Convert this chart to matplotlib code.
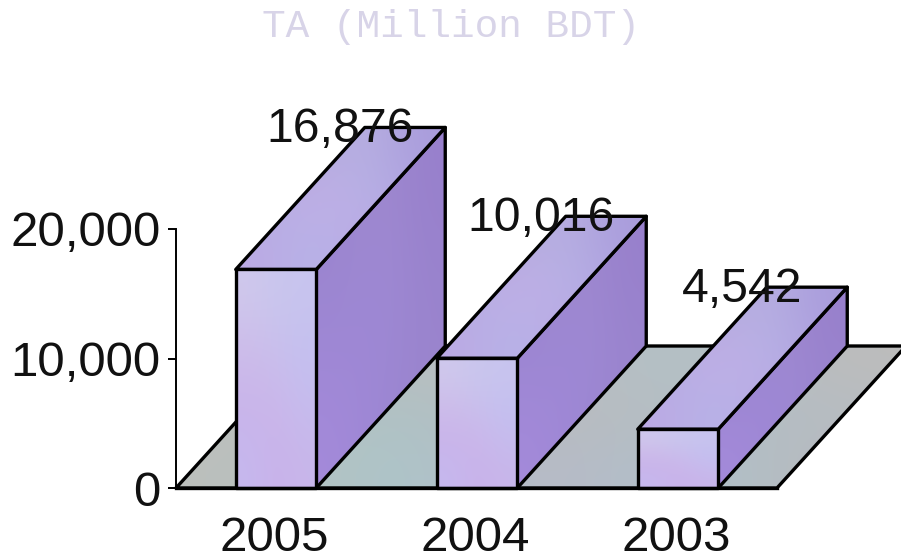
import numpy as np
import matplotlib
matplotlib.use('Agg')
import matplotlib.pyplot as plt
from matplotlib.colors import to_rgb
from matplotlib.patches import Polygon
from matplotlib.ticker import FuncFormatter

# Values
years = ['2005', '2004', '2003']
values = [16876, 10016, 4542]
y_ticks = [0, 10000, 20000]
title = 'TA (Million BDT)'

# Mottled face colours (coarse grids, smoothed when drawn)
front_colors = [['#cfc8ec', '#c9c6ee', '#c8c4ee'],
                ['#cdbcea', '#c9bfec', '#c4c0f0'],
                ['#c9b4ea', '#cbb6ea', '#c6bcee'],
                ['#c6b8ee', '#c9b2ea', '#c8b6ea']]
top_colors = [['#aca4dc', '#b4aade', '#b8b0e2', '#a99cdc'],
              ['#b3aee2', '#c4aee6', '#b6b2e6', '#b1a2e0'],
              ['#bcaae4', '#b6b4e8', '#bca8e4', '#b8a6e4']]
side_colors = [['#9a84cc', '#a08acf', '#9880cc'],
               ['#9c86d2', '#9f8ad6', '#9a84ce'],
               ['#a48ada', '#9c86d4', '#9a84cc']]
floor_colors = [['#bdbdbb', '#b5c0c2', '#bcbcc0', '#b0c2c8', '#bdbcbc'],
                ['#c0bfbc', '#a9c4c8', '#bdbabc', '#b2bfc6', '#b6bcc2'],
                ['#bcbfbc', '#a8c8cc', '#bcb6c4', '#acc4cc', '#bab8bc']]

W, H = 901, 556
left_px, right_px, y0_px, y20k_px = 176, 901, 488, 229
unit_px = 201.0                     # px between categories
first_px = 276.0                    # px of first category centre
bar_w = 80.5 / unit_px
px_per_val = (y0_px - y20k_px) / 20000.0
depth_x = 129 / unit_px
depth_y = 142 / px_per_val
lw = 2.4

fig = plt.figure(figsize=(W / 100, H / 100), dpi=100)
ax = fig.add_axes([left_px / W, 1 - y0_px / H,
                   (right_px - left_px) / W, (y0_px - y20k_px) / H])


def face(pts, colors, z):
    rgb = np.array([[to_rgb(c) for c in row] for row in colors])
    xs, ys = zip(*pts)
    im = ax.imshow(rgb, extent=(min(xs), max(xs), min(ys), max(ys)), origin='upper',
                   aspect='auto', interpolation='bicubic', zorder=z)
    poly = Polygon(pts, closed=True, transform=ax.transData, fill=False,
                   edgecolor='black', linewidth=lw, joinstyle='round',
                   clip_on=False, zorder=z + 0.1)
    ax.add_patch(poly)
    im.set_clip_box(fig.bbox)
    im.set_clip_path(Polygon(pts, closed=True, transform=ax.transData))


# Floor of the 3D box
floor_l = (left_px - first_px) / unit_px
floor_r = (777 - first_px) / unit_px
face([(floor_l, 0), (floor_l + depth_x, depth_y),
      (floor_r + depth_x, depth_y), (floor_r, 0)], floor_colors, 1)

# Bars
for i, v in enumerate(values):
    x0 = i - bar_w / 2
    x1 = i + bar_w / 2
    z = 2 + i
    face([(x1, 0), (x1 + depth_x, depth_y), (x1 + depth_x, v + depth_y), (x1, v)],
         side_colors, z)
    face([(x0, v), (x0 + depth_x, v + depth_y), (x1 + depth_x, v + depth_y), (x1, v)],
         top_colors, z + 0.2)
    face([(x0, 0), (x0, v), (x1, v), (x1, 0)], front_colors, z + 0.4)
    ax.text(i + 0.32, v + 127 / px_per_val, f'{v:,}', ha='center', va='baseline',
            fontsize=34.7, color='#111111', family='Liberation Sans', zorder=10)

ax.set_xlim(floor_l, (right_px - first_px) / unit_px)
ax.set_ylim(0, 20000)
ax.patch.set_visible(False)

ax.set_yticks(y_ticks)
ax.yaxis.set_major_formatter(FuncFormatter(lambda v, p: f'{int(v):,}'))
ax.set_xticks([i - 0.007 for i in range(len(years))])
ax.set_xticklabels(years)
ax.tick_params(axis='y', length=6, width=1.4, pad=5, labelsize=35.5, labelcolor='#111111')
ax.tick_params(axis='x', length=0, pad=20, labelsize=35.5, labelcolor='#111111')
for lab in ax.get_xticklabels() + ax.get_yticklabels():
    lab.set_family('Liberation Sans')

for s in ['top', 'right']:
    ax.spines[s].set_visible(False)
ax.spines['left'].set_linewidth(1.4)
ax.spines['bottom'].set_linewidth(lw)
ax.spines['bottom'].set_bounds(floor_l, floor_r)
ax.spines['bottom'].set_zorder(20)

fig.text(451 / W, 1 - 27 / H, title, ha='center', va='center', fontsize=28.4,
         family='Liberation Mono', color='#d8d4e8')

fig.savefig('out.png', dpi=100)
